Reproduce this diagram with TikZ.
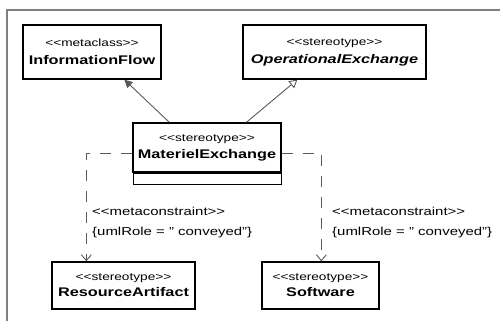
\documentclass[tikz,border=0pt]{standalone}
\usepackage{fontspec}
\setmainfont{Liberation Sans}[FakeStretch=1.3]
\usetikzlibrary{positioning,arrows.meta}

\newcommand{\stereo}[1]{{\fontsize{10.5}{12}\mdseries\upshape <{}<#1>{}>}}
\newcommand{\dq}{\symbol{34}}

\tikzset{
  classbox/.style={draw=black, line width=1.3pt, inner sep=0pt, align=center,
    font=\fontsize{12.5}{15}\selectfont\bfseries},
  link/.style={draw=black!65, line width=0.9pt},
  depend/.style={link, dash pattern=on 11pt off 10pt},
  constraint/.style={anchor=west, inner sep=0pt, font=\fontsize{11.5}{13}\selectfont}
}

\begin{document}
\begin{tikzpicture}[x=1pt,y=-1pt]
  \useasboundingbox (0,0) rectangle (500,321);
  \draw[black!50, line width=2.5pt] (500,10) -- (7,10) -- (7,321);

  % classes
  \node[classbox, minimum width=138pt, minimum height=54pt] (infoflow) at (92,52)
    {\stereo{metaclass}\\[3pt]InformationFlow};
  \node[classbox, minimum width=183pt, minimum height=54pt] (opex) at (334.5,52)
    {\stereo{stereotype}\\[3pt]\itshape OperationalExchange};
  \node[classbox, minimum width=148pt, minimum height=49pt] (matex) at (207,147.5)
    {\stereo{stereotype}\\[2pt]MaterielExchange};
  \node[classbox, line width=1pt, minimum width=148pt, minimum height=11pt, below=0pt of matex] (matexattr) {};
  \node[classbox, minimum width=143pt, minimum height=47pt] (resart) at (123.5,285.5)
    {\stereo{stereotype}\\[1pt]ResourceArtifact};
  \node[classbox, minimum width=117pt, minimum height=47pt] (software) at (320.5,285.5)
    {\stereo{stereotype}\\[1pt]Software};

  % generalizations
  \draw[link, -{Triangle[length=8pt,width=8pt]}]
    ([xshift=37pt]matex.north west) -- ([xshift=102pt]infoflow.south west);
  \draw[link, -{Triangle[open,length=8pt,width=9pt]}]
    ([xshift=114pt]matex.north west) -- ([xshift=55pt]opex.south west);

  % dependencies
  \draw[depend, -{Straight Barb[length=6pt,width=10pt]}]
    ([yshift=-5.5pt]matex.west) -| ([xshift=35pt]resart.north west);
  \draw[depend, -{Straight Barb[length=6pt,width=10pt]}]
    ([yshift=-5.5pt]matex.east) -| ([xshift=60pt]software.north west);

  \node[constraint] (lmeta) at (92,211) {<{}<metaconstraint>{}>};
  \node[constraint] (lrole) at (92,233) {\{umlRole = \dq\ conveyed\dq\}};
  \node[constraint] (rmeta) at (332,211) {<{}<metaconstraint>{}>};
  \node[constraint] (rrole) at (332,233) {\{umlRole = \dq\ conveyed\dq\}};
\end{tikzpicture}
\end{document}
